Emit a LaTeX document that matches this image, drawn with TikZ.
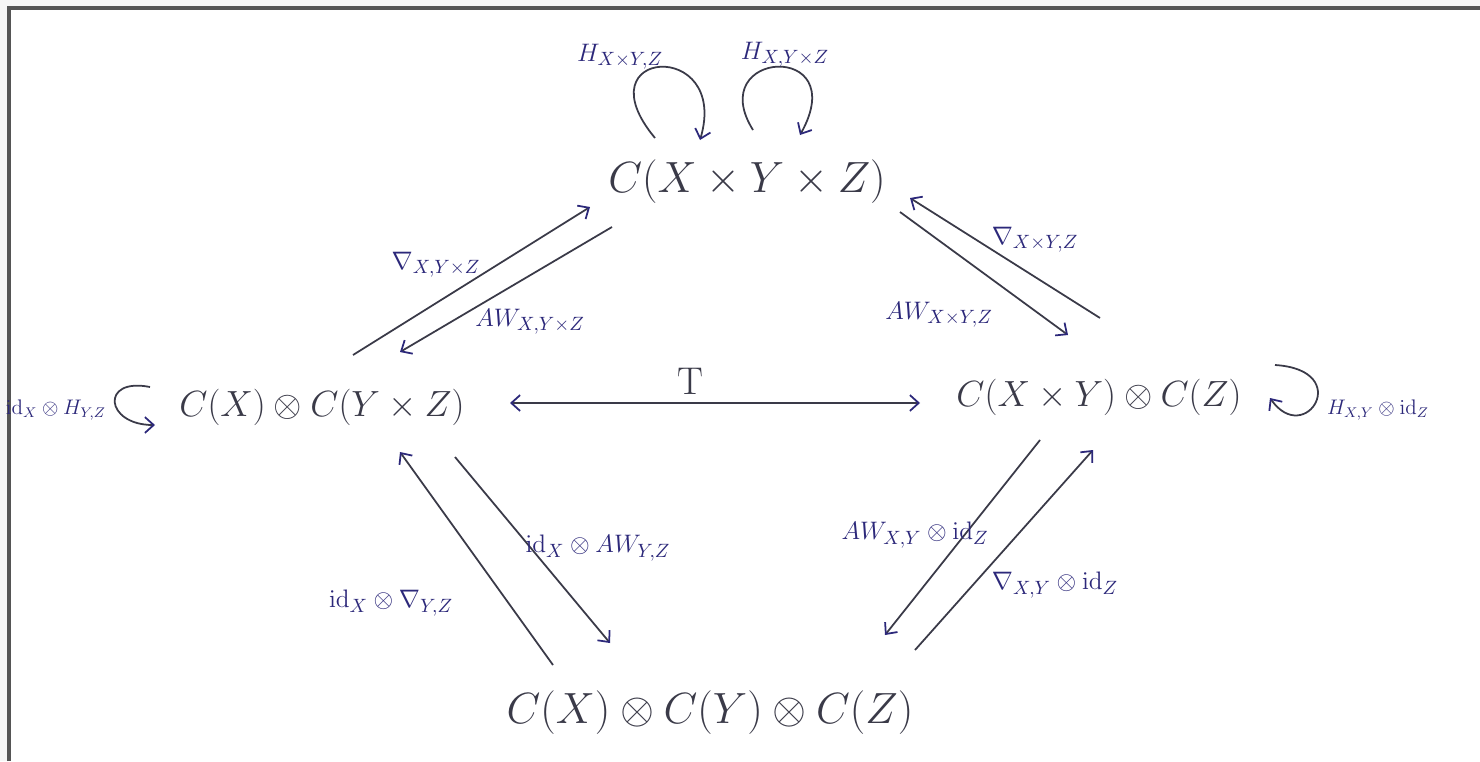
\documentclass[tikz,border=0pt]{standalone}
\usepackage{amsmath}
\usetikzlibrary{arrows.meta}
\definecolor{ink}{RGB}{58,58,72}
\definecolor{pen}{RGB}{44,40,122}
\definecolor{framegray}{RGB}{85,85,85}
\tikzset{
  obj/.style={text=ink, font=\fontsize{23}{27}\selectfont, inner sep=2pt},
  sideobj/.style={obj, font=\fontsize{20.5}{24}\selectfont},
  lab/.style={text=pen, font=\fontsize{15}{17}\selectfont, inner sep=1pt},
  sidelab/.style={lab, font=\fontsize{12}{14}\selectfont},
  barb/.tip={Straight Barb[length=5pt,width=9pt,color=pen]},
  map/.style={draw=ink, line width=1pt, -barb},
}
\begin{document}
\begin{tikzpicture}[x=0.02cm, y=0.02cm]
        \useasboundingbox (0,0) rectangle (1480,-761);
        % Frame
        \fill[gray!7] (0,0) rectangle (1480,-761);
        \fill[white] (9,-8) rectangle (1480,-761);
        \draw[framegray, line width=2.2pt] (9,-761) -- (9,-8) -- (1480,-8);

        % Objects
        \node[obj] (cxyz) at (747,-182) {$C(X\times Y\times Z)$};
        \node[sideobj] (cx_cyz) at (322,-407) {$C(X)\otimes C(Y\times Z)$};
        \node[sideobj] (cxy_cz) at (1099,-397) {$C(X\times Y)\otimes C(Z)$};
        \node[obj] (cx_cy_cz) at (710,-713) {$C(X)\otimes C(Y)\otimes C(Z)$};

        % Top pair
        \draw[map] ([shift={(31,52)}]cx_cyz.center) -- ([shift={(-157,-25)}]cxyz.center);
        \draw[map] ([shift={(-135,-45)}]cxyz.center) -- ([shift={(78,55)}]cx_cyz.center);
        \draw[map] ([shift={(1,79)}]cxy_cz.center) -- ([shift={(163,-16)}]cxyz.center);
        \draw[map] ([shift={(153,-30)}]cxyz.center) -- ([shift={(-31,62)}]cxy_cz.center);
        \node[lab] (nab_x_yz) at (436,-265) {$\nabla_{X,Y\times Z}$};
        \node[lab] (aw_x_yz) at (530,-322) {$AW_{X,Y\times Z}$};
        \node[lab] (nab_xy_z) at (1035,-240) {$\nabla_{X\times Y,Z}$};
        \node[lab] (aw_xy_z) at (939,-315) {$AW_{X\times Y,Z}$};

        % Bottom pair
        \draw[map] ([shift={(133,-50)}]cx_cyz.center) -- ([shift={(-100,70)}]cx_cy_cz.center);
        \draw[map] ([shift={(-157,48)}]cx_cy_cz.center) -- ([shift={(78,-45)}]cx_cyz.center);
        \draw[map] ([shift={(-59,-43)}]cxy_cz.center) -- ([shift={(175,78)}]cx_cy_cz.center);
        \draw[map] ([shift={(205,63)}]cx_cy_cz.center) -- ([shift={(-6,-53)}]cxy_cz.center);
        \node[lab] (id_aw) at (598,-548) {$\mathrm{id}_X\otimes AW_{Y,Z}$};
        \node[lab] (id_nab) at (391,-603) {$\mathrm{id}_X\otimes\nabla_{Y,Z}$};
        \node[lab] (aw_id) at (915,-535) {$AW_{X,Y}\otimes\mathrm{id}_Z$};
        \node[lab] (nab_id) at (1055,-585) {$\nabla_{X,Y}\otimes\mathrm{id}_Z$};

        % T
        \draw[map, barb-barb] ([shift={(188,4)}]cx_cyz.center) -- ([shift={(-179,-6)}]cxy_cz.center);
        \node[obj, font=\fontsize{22}{24}\selectfont] (t) at (690,-381) {T};

        % Homotopies
        \draw[map] ([shift={(-92,44)}]cxyz.center) .. controls +(-75,90) and +(30,102) .. ([shift={(-47,42)}]cxyz.center);
        \draw[map] ([shift={(6,52)}]cxyz.center) .. controls +(-50,80) and +(53,95) .. ([shift={(53,47)}]cxyz.center);
        \draw[map] ([shift={(-172,20)}]cx_cyz.center) .. controls +(-50,10) and +(-50,0) .. ([shift={(-167,-18)}]cx_cyz.center);
        \draw[map] ([shift={(176,32)}]cxy_cz.center) .. controls +(80,-5) and +(35,-50) .. ([shift={(171,-1)}]cxy_cz.center);
        \node[lab] (h_xy_z) at (620,-57) {$H_{X\times Y,Z}$};
        \node[lab] (h_x_yz) at (785,-55) {$H_{X,Y\times Z}$};
        \node[sidelab, anchor=east] (id_h) at (108,-410) {$\mathrm{id}_X\otimes H_{Y,Z}$};
        \node[sidelab, anchor=west] (h_id) at (1325,-410) {$H_{X,Y}\otimes\mathrm{id}_Z$};
\end{tikzpicture}
\end{document}
